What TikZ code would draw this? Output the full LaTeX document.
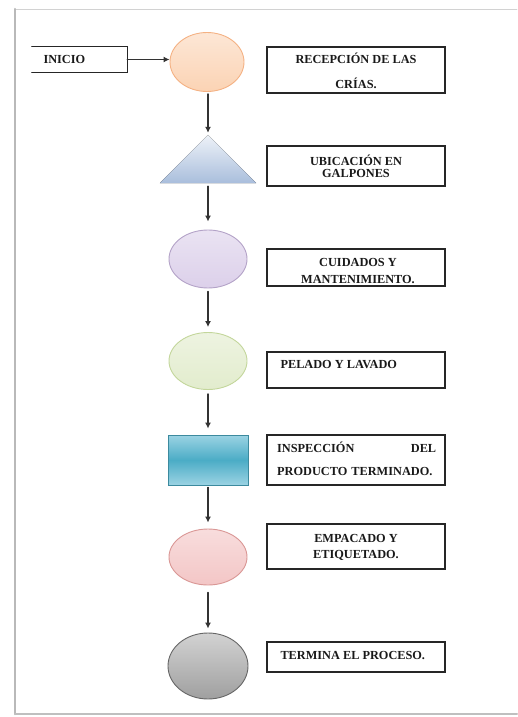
\documentclass[tikz,border=0pt]{standalone}
\usepackage{fontspec}
\setmainfont{Liberation Serif}
\usepackage{tikz}
\usetikzlibrary{shapes.geometric,arrows.meta}

\definecolor{peachF}{HTML}{FBD3B4}
\definecolor{peachD}{HTML}{F4B183}
\definecolor{lilacF}{HTML}{DCD0EA}
\definecolor{lilacD}{HTML}{B3A2C7}
\definecolor{limeF}{HTML}{E2ECCD}
\definecolor{limeD}{HTML}{C3D69B}
\definecolor{tealF}{HTML}{4BACC6}
\definecolor{tealL}{HTML}{9BD3E3}
\definecolor{roseF}{HTML}{F3C6C6}
\definecolor{roseD}{HTML}{D99694}
\definecolor{skyF}{HTML}{A9BEDC}

\tikzset{
  stage/.style={ellipse, inner sep=0pt, line width=0.9pt},
  stepbox/.style={draw=black!85, line width=1.2pt, minimum width=178pt, inner sep=0pt},
  steptext/.style={font=\bfseries\fontsize{12.3}{14}\selectfont, text=black!90},
  flow/.style={-{Latex[length=6pt,width=6pt]}, line width=1.3pt, black!80}
}

\begin{document}
\begin{tikzpicture}[x=1pt, y=-1pt, line cap=round]
  \useasboundingbox (0,0) rectangle (517,717);
  % page frame (shadow on left and bottom)
  \draw[gray!35, line width=0.8pt] (15,9) -- (517,9);
  \draw[gray!55, line width=2.5pt] (15,9) -- (15,714);
  \draw[gray!50, line width=2pt] (15,714) -- (517,714);

  % start box
  \node[minimum width=95pt, minimum height=25pt, inner sep=0pt] (ini) at (79.5,59.5) {};
  \draw[black!85, line width=1.2pt] (ini.north west) -- (ini.north east) -- (ini.south east) -- (ini.south west);
  \node[steptext, anchor=west] (tini) at (40,59.5) {INICIO};

  % symbols of the process
  \node[stage, draw=peachD, top color=peachF!55, bottom color=peachF, minimum width=74pt, minimum height=59pt] (c1) at (207,62) {};
  \node[minimum width=96pt, minimum height=48pt, inner sep=0pt] (tri) at (208,159) {};
  \fill[top color=skyF!20, bottom color=skyF] (tri.north) -- (tri.south east) -- (tri.south west) -- cycle;
  \node[stage, draw=lilacD, top color=lilacF!60, bottom color=lilacF, minimum width=78pt, minimum height=58pt] (c3) at (208,259) {};
  \node[stage, draw=limeD, top color=limeF!60, bottom color=limeF, minimum width=78pt, minimum height=57pt] (c4) at (208,361) {};
  \node[draw=tealF!80!black, line width=0.8pt, top color=tealL, bottom color=tealL, middle color=tealF, minimum width=80pt, minimum height=50pt, inner sep=0pt] (r5) at (208,460) {};
  \node[stage, draw=roseD, top color=roseF!60, bottom color=roseF, minimum width=78pt, minimum height=56pt] (c6) at (208,557) {};
  \node[stage, draw=gray!80!black, top color=gray!35, bottom color=gray!75, minimum width=80pt, minimum height=66pt] (c7) at (208,666) {};

  % description boxes
  \node[stepbox, minimum height=46pt] (b1) at (356,70) {};
  \node[stepbox, minimum height=40pt] (b2) at (356,166) {};
  \node[stepbox, minimum height=37pt] (b3) at (356,267.5) {};
  \node[stepbox, minimum height=36pt] (b4) at (356,370) {};
  \node[stepbox, minimum height=50pt] (b5) at (356,460) {};
  \node[stepbox, minimum height=45pt] (b6) at (356,546.5) {};
  \node[stepbox, minimum height=30pt] (b7) at (356,657) {};

  \node[steptext, align=center] (t1) at (356,71) {RECEPCIÓN DE LAS\\[11pt]CRÍAS.};
  \node[steptext, align=center] (t2) at (356,166) {UBICACIÓN EN\\[-2pt]GALPONES};
  \node[steptext, align=center] (t3) at (358,271) {CUIDADOS Y\\[3pt]MANTENIMIENTO.};
  \node[steptext, anchor=west] (t4) at (277,365) {PELADO Y LAVADO};
  \node[steptext, text width=159pt, align=left, anchor=west, inner sep=0pt] (t5) at (277,459) {INSPECCIÓN\hfill DEL\\[9pt]PRODUCTO TERMINADO.};
  \node[steptext, align=center] (t6) at (356,547) {EMPACADO Y\\[2pt]ETIQUETADO.};
  \node[steptext, anchor=west] (t7) at (277,656) {TERMINA EL PROCESO.};

  % connectors
  \draw[flow] (ini.east) -- (ini.east -| c1.west);
  \draw[flow, shorten <=2pt, shorten >=2pt] (c1.south -| tri.north) -- (tri.north);
  \draw[flow, shorten <=3pt, shorten >=8pt] (tri.south) -- (c3.north);
  \foreach \a/\b/\s/\e in {c3/c4/3/5, c4/r5/4/6, r5/c6/2/6, c6/c7/7/4}{
    \draw[flow, shorten <=\s pt, shorten >=\e pt] (\a.south) -- (\b.north);
  }
\end{tikzpicture}
\end{document}
